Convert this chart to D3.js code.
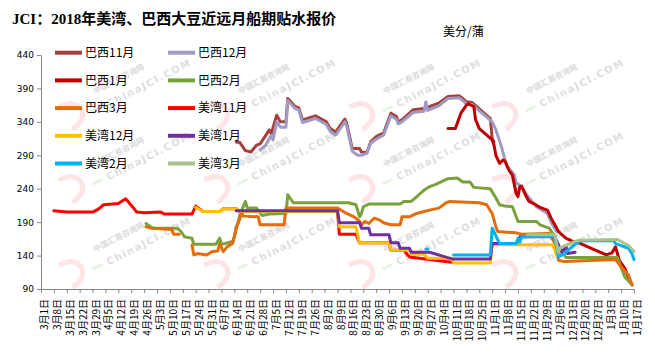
<!DOCTYPE html>
<html>
<head>
<meta charset="utf-8">
<script src="https://cdn.jsdelivr.net/npm/d3@7"></script>
<style>
  body { margin: 0; background: #fff; }
  svg { display: block; font-family: "Noto Sans CJK SC", sans-serif; }
</style>
</head>
<body>
<svg id="chart" width="655" height="361"></svg>
<script>
// series names / colours, same order as the legend (later ones draw on top)
const names = ["巴西11月", "巴西12月", "巴西1月", "巴西2月", "巴西3月", "美湾11月", "美湾12月", "美湾1月", "美湾2月", "美湾3月"];
const colors = ["#A5413D", "#A09AC4", "#C00000", "#79A23C", "#E46C0A", "#FF0000", "#FFC000", "#7030A0", "#00B0F0", "#A9C28A"];
const yTicks = [90, 140, 190, 240, 290, 340, 390, 440];

// values, "MM-DD" (Mar-Dec = 2018, Jan = 2019), 美分/蒲
const bx11 = [["06-15",310],["06-17",309],["06-20",297],["06-23",295],["06-26",305],["06-28",307],["07-03",328],["07-04",322],["07-07",350],["07-09",340],["07-12",340],["07-13",375],["07-17",363],["07-19",361],["07-21",343],["07-28",349],["08-03",340],["08-05",330],["08-08",325],["08-13",344],["08-14",338],["08-17",300],["08-21",300],["08-22",295],["08-25",294],["08-27",310],["08-30",318],["09-01",321],["09-03",323],["09-07",353],["09-10",348],["09-11",340],["09-13",343],["09-19",358],["09-25",360],["10-03",368],["10-08",378],["10-14",379],["10-16",375],["10-18",370],["10-21",369],["10-31",345],["11-01",315],["11-02",310]];
const bx12 = [["06-28",298],["07-01",305],["07-04",320],["07-05",313],["07-07",340],["07-09",332],["07-12",332],["07-13",372],["07-17",360],["07-19",358],["07-21",339],["07-28",345],["08-03",336],["08-05",326],["08-08",320],["08-13",340],["08-14",334],["08-17",296],["08-20",290],["08-22",290],["08-25",293],["08-27",308],["08-30",314],["09-01",317],["09-03",320],["09-07",349],["09-10",344],["09-11",337],["09-13",340],["09-19",354],["09-25",356],["09-26",370],["09-27",357],["10-03",364],["10-08",375],["10-14",376],["10-16",372],["10-18",367],["10-21",366],["11-01",340],["11-03",328],["11-06",303],["11-08",283],["11-09",274],["11-13",261],["11-14",249],["11-17",243],["11-20",230],["11-25",213],["12-01",203],["12-03",190],["12-06",176]];
const bx1 = [["10-08",330],["10-12",330],["10-15",353],["10-18",365],["10-19",367],["10-22",363],["10-23",343],["10-25",330],["10-30",318],["11-01",313],["11-02",305],["11-03",290],["11-05",278],["11-07",283],["11-08",281],["11-10",268],["11-12",260],["11-14",233],["11-15",228],["11-16",243],["11-17",244],["11-19",231],["11-21",221],["11-24",217],["11-27",212],["12-01",208],["12-03",196],["12-05",186],["12-07",176],["12-09",171],["12-11",166],["12-15",161],["12-18",159],["12-27",148],["01-02",141],["01-05",144],["01-07",153],["01-09",133],["01-12",121],["01-15",100]];
const bx2 = [["04-27",188],["04-30",182],["05-02",181],["05-14",181],["05-16",176],["05-18",168],["05-22",166],["05-23",157],["06-04",157],["06-06",166],["06-07",157],["06-09",158],["06-13",161],["06-14",168],["06-17",201],["06-20",221],["06-21",211],["06-26",211],["06-29",200],["07-03",202],["07-12",203],["07-13",231],["07-16",219],["08-15",219],["08-19",216],["08-21",198],["08-22",203],["08-23",213],["08-26",217],["09-12",217],["09-14",221],["09-18",221],["09-21",228],["09-25",238],["09-28",243],["10-01",246],["10-08",255],["10-13",256],["10-16",250],["10-20",250],["10-22",242],["10-31",240],["11-03",226],["11-05",216],["11-08",214],["11-12",213],["11-15",191],["11-25",191],["11-27",186],["12-02",181],["12-05",168],["12-06",144],["12-09",146],["12-11",137],["01-08",137],["01-12",108],["01-16",96]];
const bx3 = [["04-27",183],["04-30",181],["05-11",179],["05-12",172],["05-15",172],["05-18",null],["05-22",156],["05-23",141],["05-25",143],["05-30",141],["06-02",146],["06-05",147],["06-06",158],["06-08",146],["06-10",153],["06-13",158],["06-14",168],["06-15",183],["06-16",188],["06-18",203],["06-19",199],["06-27",198],["06-28",186],["07-11",186],["07-12",211],["08-09",211],["08-14",203],["08-18",198],["08-21",191],["08-22",186],["08-24",191],["08-26",188],["08-29",196],["09-01",193],["09-03",189],["09-07",186],["09-12",186],["09-13",198],["09-17",198],["09-21",203],["09-25",206],["09-28",208],["10-03",211],["10-07",219],["10-09",221],["10-25",219],["10-29",216],["11-01",203],["11-03",183],["11-04",176],["11-14",174],["11-17",172],["12-02",173],["12-05",159],["12-07",133],["12-10",131],["01-07",134],["01-10",123],["01-14",111],["01-16",96]];
const mw11 = [["03-08",207],["03-15",205],["03-29",205],["04-01",209],["04-04",216],["04-12",218],["04-16",225],["04-20",212],["04-22",205],["04-26",204],["05-05",205],["05-07",202],["05-22",202],["05-24",214],["05-28",206],["06-06",206],["06-08",210],["06-15",210],["06-17",206],["08-09",206],["08-10",172],["08-19",172],["08-21",159],["09-06",159],["09-07",148],["09-14",148],["09-17",138],["10-10",130]];
const mw12 = [["05-24",212],["05-28",206],["06-06",206],["06-08",210],["06-15",210],["06-17",206],["08-09",206],["08-10",183],["08-19",183],["08-21",159],["09-06",159],["09-07",148],["09-17",148],["09-18",142],["09-25",142],["09-27",136],["10-10",136],["10-11",129],["10-31",129],["11-01",156],["12-04",156],["12-06",140]];
const mw1 = [["06-15",207],["08-09",207],["08-10",189],["08-21",189],["08-22",181],["08-26",181],["08-27",171],["09-06",171],["09-07",159],["09-11",159],["09-12",151],["09-17",151],["09-18",145],["09-28",145],["10-10",135],["10-31",135],["11-01",158],["11-14",158],["11-16",168],["12-05",168],["12-09",144],["12-11",155],["12-12",143],["12-16",145]];
const mw2 = [["09-26",150],["09-27",150],["09-28",null],["10-11",141],["10-31",141],["11-01",181],["11-05",158],["11-14",158],["11-15",166],["11-16",160],["11-17",168],["12-05",169],["12-07",138],["12-09",141],["12-17",159],["12-19",162],["01-06",162],["01-07",158],["01-14",151],["01-16",142],["01-17",134]];
const mw3 = [["11-20",171],["12-05",171],["12-07",145],["12-08",152],["12-15",160],["12-18",163],["01-08",164],["01-14",155],["01-17",146]];

const allSeries = [bx11, bx12, bx1, bx2, bx3, mw11, mw12, mw1, mw2, mw3];

const parse = s => {
  const [m, d] = s.split("-").map(Number);
  return new Date(m >= 3 ? 2018 : 2019, m - 1, d);
};

const svg = d3.select("#chart");
const start = parse("03-01"), end = parse("01-17");

const x = d3.scaleTime().domain([start, end]).range([41, 634]);
const y = d3.scaleLinear().domain([90, 440]).range([289, 55]);

// watermark ("中国汇易咨询网 ChinaJCI.COM"), faint, behind everything
const wmX = [72, 217, 362, 505];
const wmY = [115, 188, 273];
const wm = svg.append("g");
wmX.forEach(cx => wmY.forEach(cy => {
  const g = wm.append("g").attr("transform", `translate(${cx},${cy}) rotate(-27)`);
  g.append("path")
    .attr("d", "M-8,-13 Q10,-13 11,0 Q10,11 -6,13")
    .attr("fill", "none").attr("stroke", "#fde4e7").attr("stroke-width", 5);
  g.append("line").attr("x1", 20).attr("x2", 31).attr("y1", 6).attr("y2", 6)
    .attr("stroke", "#e2f4e2").attr("stroke-width", 3);
  g.append("text").attr("x", 30).attr("y", -8).text("中国汇易咨询网")
    .attr("font-size", 8).attr("font-weight", "bold").attr("fill", "#dadada");
  g.append("text").attr("x", 36).attr("y", 10).text("ChinaJCI.COM")
    .attr("font-family", "DejaVu Sans").attr("font-size", 10).attr("font-weight", "bold")
    .attr("letter-spacing", 1.5).attr("fill", "#dedede");
}));

// title + unit
svg.append("text").attr("x", 12).attr("y", 24)
  .attr("font-family", "'Liberation Serif','Noto Sans CJK SC',serif")
  .attr("font-size", 15).attr("font-weight", "bold")
  .text("JCI：2018年美湾、巴西大豆近远月船期贴水报价");
svg.append("text").attr("x", 443).attr("y", 36).attr("font-size", 12).text("美分/蒲");

// axes
const weeks = d3.range(47).map(i => d3.timeDay.offset(start, i * 7));

const xAxis = svg.append("g").attr("transform", "translate(0,289)")
  .call(d3.axisBottom(x).tickValues(weeks).tickSize(4).tickSizeOuter(0)
    .tickFormat(d => `${d.getMonth() + 1}月${d.getDate()}日`));
xAxis.selectAll("text")
  .attr("transform", "rotate(-90)")
  .attr("text-anchor", "end")
  .attr("x", -10).attr("y", 3).attr("dy", "0.35em")
  .attr("font-size", 10).attr("font-family", "'Noto Sans CJK SC'").attr("fill", "#000");

const yAxis = svg.append("g").attr("transform", "translate(41,0)")
  .call(d3.axisLeft(y).tickValues(yTicks).tickSize(4).tickSizeOuter(0));
yAxis.selectAll("text").attr("font-size", 9).attr("font-family", "'DejaVu Sans'").attr("fill", "#000");

svg.selectAll(".domain, .tick line").attr("stroke", "#868686");

// lines
const line = d3.line()
  .defined(d => d[1] !== null)
  .x(d => x(parse(d[0])))
  .y(d => y(d[1]));

svg.append("g").selectAll("path")
  .data(allSeries)
  .join("path")
  .attr("d", line)
  .attr("fill", "none")
  .attr("stroke", (d, i) => colors[i])
  .attr("stroke-width", 3)
  .attr("stroke-linejoin", "round")
  .attr("stroke-linecap", "round");

// legend, two columns x five rows
const leg = svg.append("g").selectAll("g")
  .data(names)
  .join("g")
  .attr("transform", (d, i) => `translate(${i % 2 === 0 ? 55 : 168},${52.7 + Math.floor(i / 2) * 27.7})`);
leg.append("line").attr("x1", 0).attr("x2", 27)
  .attr("stroke", (d, i) => colors[i]).attr("stroke-width", 4);
leg.append("text").attr("x", 30).attr("dy", "0.35em").attr("font-size", 12).text(d => d);
</script>
</body>
</html>
